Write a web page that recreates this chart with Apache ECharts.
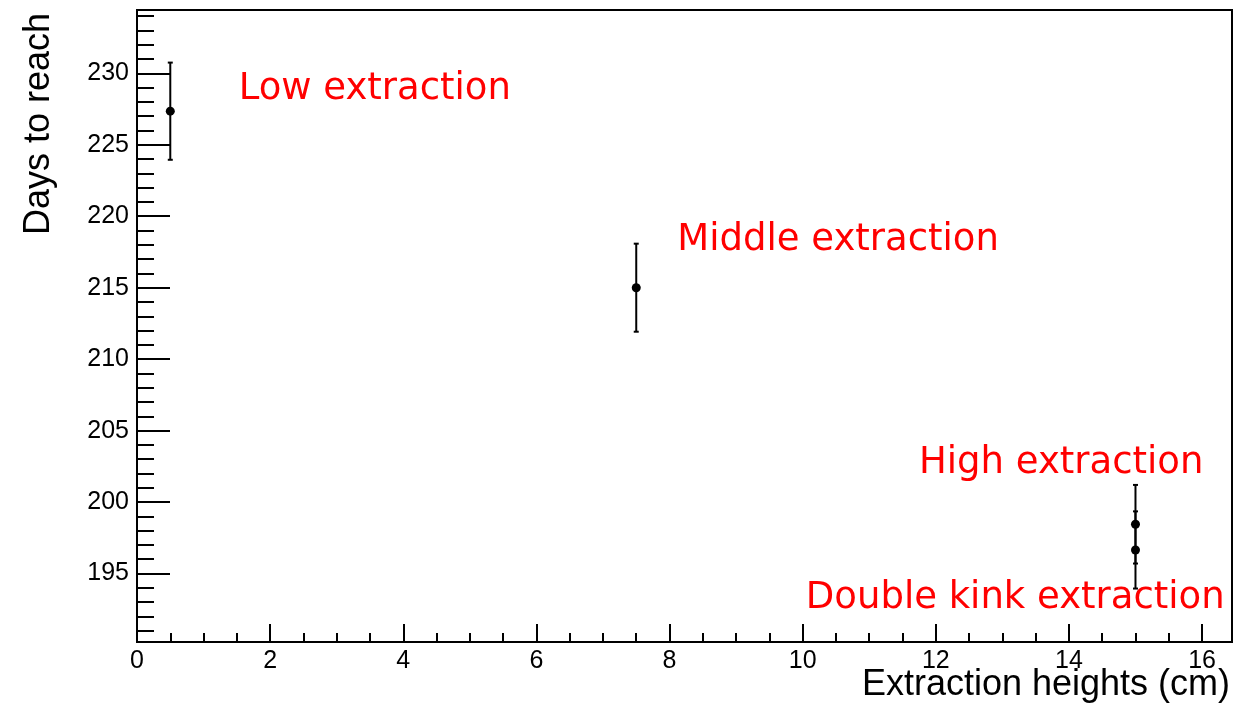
<!DOCTYPE html>
<html>
<head>
<meta charset="utf-8">
<title>Days to reach vs extraction height</title>
<script src="https://cdn.jsdelivr.net/npm/echarts@6/dist/echarts.min.js"></script>
<style>
  html, body { margin: 0; padding: 0; background: #ffffff; }
  #chart { width: 1246px; height: 707px; }
</style>
</head>
<body>
<div id="chart"></div>
<script>
// Measured points: extraction height (cm), days to reach, symmetric error
const xValues = [0.5, 7.5, 15, 15];
const yValues = [227.35, 215.0, 198.45, 196.65];
const yErrors = [3.4, 3.08, 2.75, 2.7];

// Tick values
const xMajorTicks = [0, 2, 4, 6, 8, 10, 12, 14, 16];
const xMinorTicks = [0.5, 1, 1.5, 2.5, 3, 3.5, 4.5, 5, 5.5, 6.5, 7, 7.5, 8.5, 9, 9.5,
  10.5, 11, 11.5, 12.5, 13, 13.5, 14.5, 15, 15.5, 16.5];
const yMajorTicks = [195, 200, 205, 210, 215, 220, 225, 230];
const yMinorTicks = [191, 192, 193, 194, 196, 197, 198, 199, 201, 202, 203, 204,
  206, 207, 208, 209, 211, 212, 213, 214, 216, 217, 218, 219, 221, 222, 223, 224,
  226, 227, 228, 229, 231, 232, 233, 234];

// Text annotations, anchored at their left edge / vertical centre in data units
const annotationText = ['Low extraction', 'Middle extraction', 'High extraction', 'Double kink extraction'];
const annotationX = [1.52, 8.11, 11.74, 10.04];
const annotationY = [228.88, 218.33, 202.70, 193.25];

const X_MIN = 0, X_MAX = 16.45;
const Y_MIN = 190.21, Y_MAX = 234.43;

const axisFont = '"Liberation Sans", Arial, Helvetica, sans-serif';
const lineCol = '#000000';

const chart = echarts.init(document.getElementById('chart'), null, { renderer: 'canvas' });

function xAxisDef(ticks, len, labels) {
  return {
    type: 'value', position: 'bottom', min: X_MIN, max: X_MAX,
    axisLine: { show: true, onZero: false, lineStyle: { color: lineCol, width: 2 } },
    axisTick: { show: true, inside: true, length: len, customValues: ticks, lineStyle: { color: lineCol, width: 2 } },
    axisLabel: labels ? {
      show: true, customValues: ticks, margin: 7, color: '#000',
      fontSize: 25, fontFamily: axisFont, formatter: v => String(v)
    } : { show: false },
    splitLine: { show: false }
  };
}

function yAxisDef(ticks, len, labels) {
  return {
    type: 'value', position: 'left', min: Y_MIN, max: Y_MAX,
    axisLine: { show: true, onZero: false, lineStyle: { color: lineCol, width: 2 } },
    axisTick: { show: true, inside: true, length: len, customValues: ticks, lineStyle: { color: lineCol, width: 2 } },
    axisLabel: labels ? {
      show: true, customValues: ticks, margin: 8, color: '#000',
      fontSize: 25, fontFamily: axisFont, formatter: v => String(v)
    } : { show: false },
    splitLine: { show: false }
  };
}

const errorData = xValues.map((x, i) => [x, yValues[i], yErrors[i]]);
const pointData = xValues.map((x, i) => [x, yValues[i]]);
const annotationData = annotationX.map((x, i) => ({ name: annotationText[i], value: [x, annotationY[i]] }));

chart.setOption({
  animation: false,
  backgroundColor: '#ffffff',
  grid: {
    left: 137, right: 14, top: 10, bottom: 65,
    show: true, borderColor: lineCol, borderWidth: 2, backgroundColor: 'transparent'
  },
  xAxis: [xAxisDef(xMajorTicks, 18, true), xAxisDef(xMinorTicks, 9, false)],
  yAxis: [yAxisDef(yMajorTicks, 33, true), yAxisDef(yMinorTicks, 17, false)],
  graphic: [
    {
      type: 'text', x: 1230, y: 685.5, silent: true,
      style: { text: 'Extraction heights (cm)', font: '36px ' + axisFont, fill: '#000',
               align: 'right', verticalAlign: 'middle' }
    },
    {
      type: 'text', x: 39, y: 13, rotation: Math.PI / 2, silent: true,
      style: { text: 'Days to reach', font: '36px ' + axisFont, fill: '#000',
               align: 'right', verticalAlign: 'middle' }
    }
  ],
  series: [
    {
      type: 'custom',
      name: 'errors',
      xAxisIndex: 0, yAxisIndex: 0,
      silent: true,
      clip: false,
      data: errorData,
      renderItem: function (params, api) {
        const x = api.value(0), y = api.value(1), e = api.value(2);
        const top = api.coord([x, y + e]);
        const bot = api.coord([x, y - e]);
        const style = { stroke: lineCol, lineWidth: 2, fill: null };
        const cap = 2.5;
        return {
          type: 'group',
          children: [
            { type: 'line', shape: { x1: top[0], y1: top[1], x2: bot[0], y2: bot[1] }, style: style },
            { type: 'line', shape: { x1: top[0] - cap, y1: top[1], x2: top[0] + cap, y2: top[1] }, style: style },
            { type: 'line', shape: { x1: bot[0] - cap, y1: bot[1], x2: bot[0] + cap, y2: bot[1] }, style: style }
          ]
        };
      }
    },
    {
      type: 'scatter',
      name: 'points',
      xAxisIndex: 0, yAxisIndex: 0,
      symbol: 'circle',
      symbolSize: 9,
      itemStyle: { color: '#000000', opacity: 1 },
      silent: true,
      data: pointData
    },
    {
      type: 'scatter',
      name: 'annotations',
      xAxisIndex: 0, yAxisIndex: 0,
      symbol: 'circle',
      symbolSize: 1,
      silent: true,
      itemStyle: { color: 'rgba(0,0,0,0)', opacity: 1 },
      label: {
        show: true, position: 'right', distance: 0, opacity: 1,
        formatter: '{b}', color: '#ff0000',
        fontSize: 37, fontFamily: '"DejaVu Sans", Verdana, sans-serif',
        align: 'left', verticalAlign: 'middle'
      },
      labelLayout: { hideOverlap: false },
      data: annotationData
    }
  ]
});
</script>
</body>
</html>
